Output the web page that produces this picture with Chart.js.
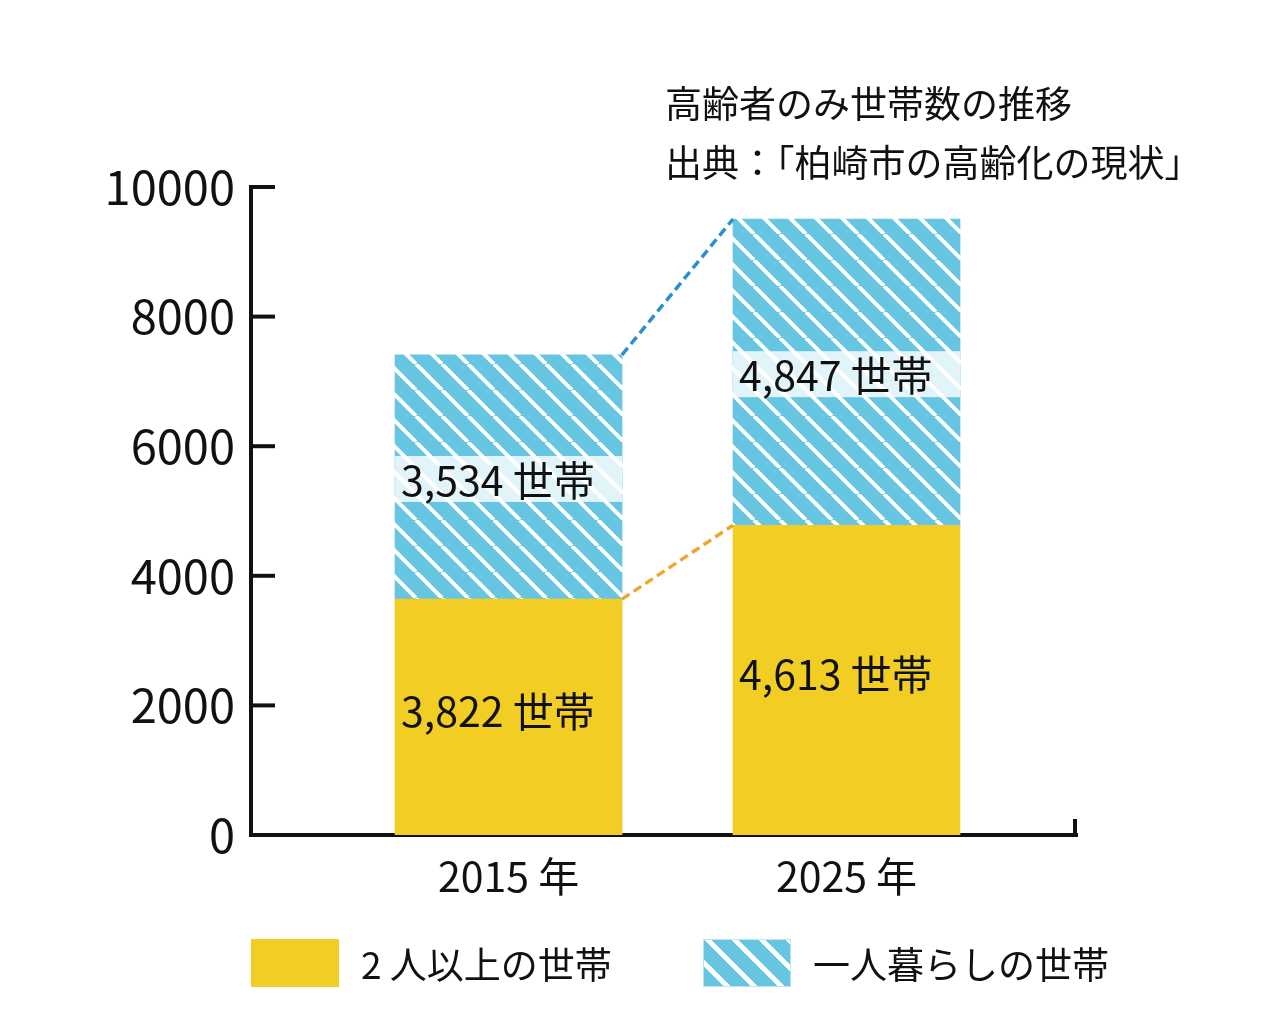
<!DOCTYPE html>
<html lang="ja">
<head>
<meta charset="utf-8">
<script src="https://cdn.jsdelivr.net/npm/chart.js@4.4.1/dist/chart.umd.min.js"></script>
<style>
  body { margin: 0; background: #fff; }
  #wrap { position: relative; width: 1287px; height: 1025px; font-family: "Noto Sans CJK JP", "Noto Sans", sans-serif; color: #111; }
  #chart { position: absolute; left: 0; top: 0; }
  .title { position: absolute; left: 665px; font-size: 37px; line-height: 59px; white-space: nowrap; }
  .legend { position: absolute; top: 939px; display: flex; align-items: center; font-size: 37px; line-height: 48px; white-space: nowrap; }
  .legend .box { width: 88px; height: 48px; margin-right: 22px; box-sizing: border-box; }
  .legend .yellow { background: #f2ce25; }
  .legend .stripe { border: 1px solid #bfe4f1; background: repeating-linear-gradient(45deg, #66c6e1 0 14px, #fff 14px 19px); }
</style>
</head>
<body>
<div id="wrap">
  <canvas id="chart" width="1287" height="1025"></canvas>
  <div class="title" style="top:73px">高齢者のみ世帯数の推移</div>
  <div class="title" style="top:132px">出典：「柏崎市の高齢化の現状」</div>
  <div class="legend" style="left:251px"><div class="box yellow"></div>2 人以上の世帯</div>
  <div class="legend" style="left:703px"><div class="box stripe"></div>一人暮らしの世帯</div>
</div>
<script>
// data
const years = ["2015 年", "2025 年"];
const seriesNames = ["2 人以上の世帯", "一人暮らしの世帯"];
const multiHouseholds = [3640, 4780];
const singleHouseholds = [3770, 4725];
const multiLabels = ["3,822 世帯", "4,613 世帯"];
const singleLabels = ["3,534 世帯", "4,847 世帯"];
const yTicks = [0, 2000, 4000, 6000, 8000, 10000];

const FONT = "'Noto Sans CJK JP', 'Noto Sans', sans-serif";
const YELLOW = "#f2ce25";
const BLUE = "#66c6e1";

// diagonal stripe fill
function stripePattern() {
  const s = 26;
  const c = document.createElement("canvas");
  c.width = s;
  c.height = s;
  const g = c.getContext("2d");
  g.fillStyle = BLUE;
  g.fillRect(0, 0, s, s);
  g.strokeStyle = "#fff";
  g.lineWidth = 4;
  for (let k = -1; k <= 1; k++) {
    g.beginPath();
    g.moveTo(k * s, 0);
    g.lineTo(k * s + s, s);
    g.stroke();
  }
  return g.createPattern(c, "repeat");
}

const connectorColors = ["#eea630", "#2b8fcb"];
const segmentLabels = [multiLabels, singleLabels];

const barDecor = {
  id: "barDecor",
  afterDatasetsDraw(chart) {
    const ctx = chart.ctx;
    ctx.save();
    // dashed connectors between bar tops
    chart.data.datasets.forEach((ds, di) => {
      const bars = chart.getDatasetMeta(di).data;
      ctx.setLineDash([9, 5]);
      ctx.lineWidth = 3.5;
      ctx.strokeStyle = connectorColors[di];
      ctx.beginPath();
      ctx.moveTo(bars[0].x + bars[0].width / 2, bars[0].y);
      ctx.lineTo(bars[1].x - bars[1].width / 2, bars[1].y);
      ctx.stroke();
    });
    ctx.setLineDash([]);
    // value labels
    ctx.font = "41px " + FONT;
    ctx.textBaseline = "middle";
    ctx.textAlign = "left";
    chart.data.datasets.forEach((ds, di) => {
      chart.getDatasetMeta(di).data.forEach((bar, i) => {
        const left = bar.x - bar.width / 2;
        let cy = (bar.y + bar.base) / 2;
        if (di === 1) {
          cy += 2;
          ctx.fillStyle = "rgba(255,255,255,0.8)";
          ctx.fillRect(left, cy - 23, bar.width, 46);
        } else {
          cy -= 7;
        }
        ctx.fillStyle = "#111";
        ctx.fillText(segmentLabels[di][i], left + 6, cy + 1);
      });
    });
    ctx.restore();
  },
  afterDraw(chart) {
    const ctx = chart.ctx;
    const y = chart.scales.y;
    const area = chart.chartArea;
    ctx.save();
    ctx.strokeStyle = "#111";
    ctx.lineWidth = 4;
    // inward tick marks on the value axis
    y.ticks.forEach((t) => {
      const py = y.getPixelForValue(t.value);
      ctx.beginPath();
      ctx.moveTo(area.left, py);
      ctx.lineTo(area.left + 24, py);
      ctx.stroke();
    });
    // end tick of the category axis
    ctx.beginPath();
    ctx.moveTo(area.right - 2, area.bottom);
    ctx.lineTo(area.right - 2, area.bottom - 16);
    ctx.stroke();
    ctx.restore();
  },
};

new Chart(document.getElementById("chart"), {
  type: "bar",
  data: {
    labels: years.map((_, i) => i + 1),
    datasets: [
      {
        label: seriesNames[0],
        data: multiHouseholds,
        backgroundColor: YELLOW,
        barThickness: 227,
        borderWidth: 0,
      },
      {
        label: seriesNames[1],
        data: singleHouseholds,
        backgroundColor: stripePattern(),
        barThickness: 227,
        borderWidth: 0,
      },
    ],
  },
  options: {
    responsive: false,
    animation: false,
    layout: { padding: { left: 100, right: 210, top: 187, bottom: 110 } },
    plugins: {
      legend: { display: false },
      tooltip: { enabled: false },
    },
    scales: {
      x: {
        type: "linear",
        stacked: true,
        offset: false,
        bounds: "data",
        min: 0.238,
        max: 2.682,
        afterBuildTicks: (s) => {
          s.ticks = years.map((_, i) => ({ value: i + 1 }));
        },
        afterFit: (s) => {
          s.height = 80;
        },
        ticks: {
          color: "#111",
          font: { family: FONT, size: 41 },
          padding: 17,
          callback: (v) => years[v - 1],
        },
        grid: { display: false, drawTicks: false, offset: false },
        border: { display: true, color: "#111", width: 4 },
      },
      y: {
        stacked: true,
        min: 0,
        max: 10000,
        afterBuildTicks: (s) => {
          s.ticks = yTicks.map((v) => ({ value: v }));
        },
        afterFit: (s) => {
          s.width = 151;
        },
        ticks: {
          color: "#111",
          font: { family: FONT, size: 47 },
          padding: 16,
          callback: (v) => String(v),
        },
        grid: { display: false, drawTicks: false },
        border: { display: true, color: "#111", width: 4 },
      },
    },
  },
  plugins: [barDecor],
});
</script>
</body>
</html>
